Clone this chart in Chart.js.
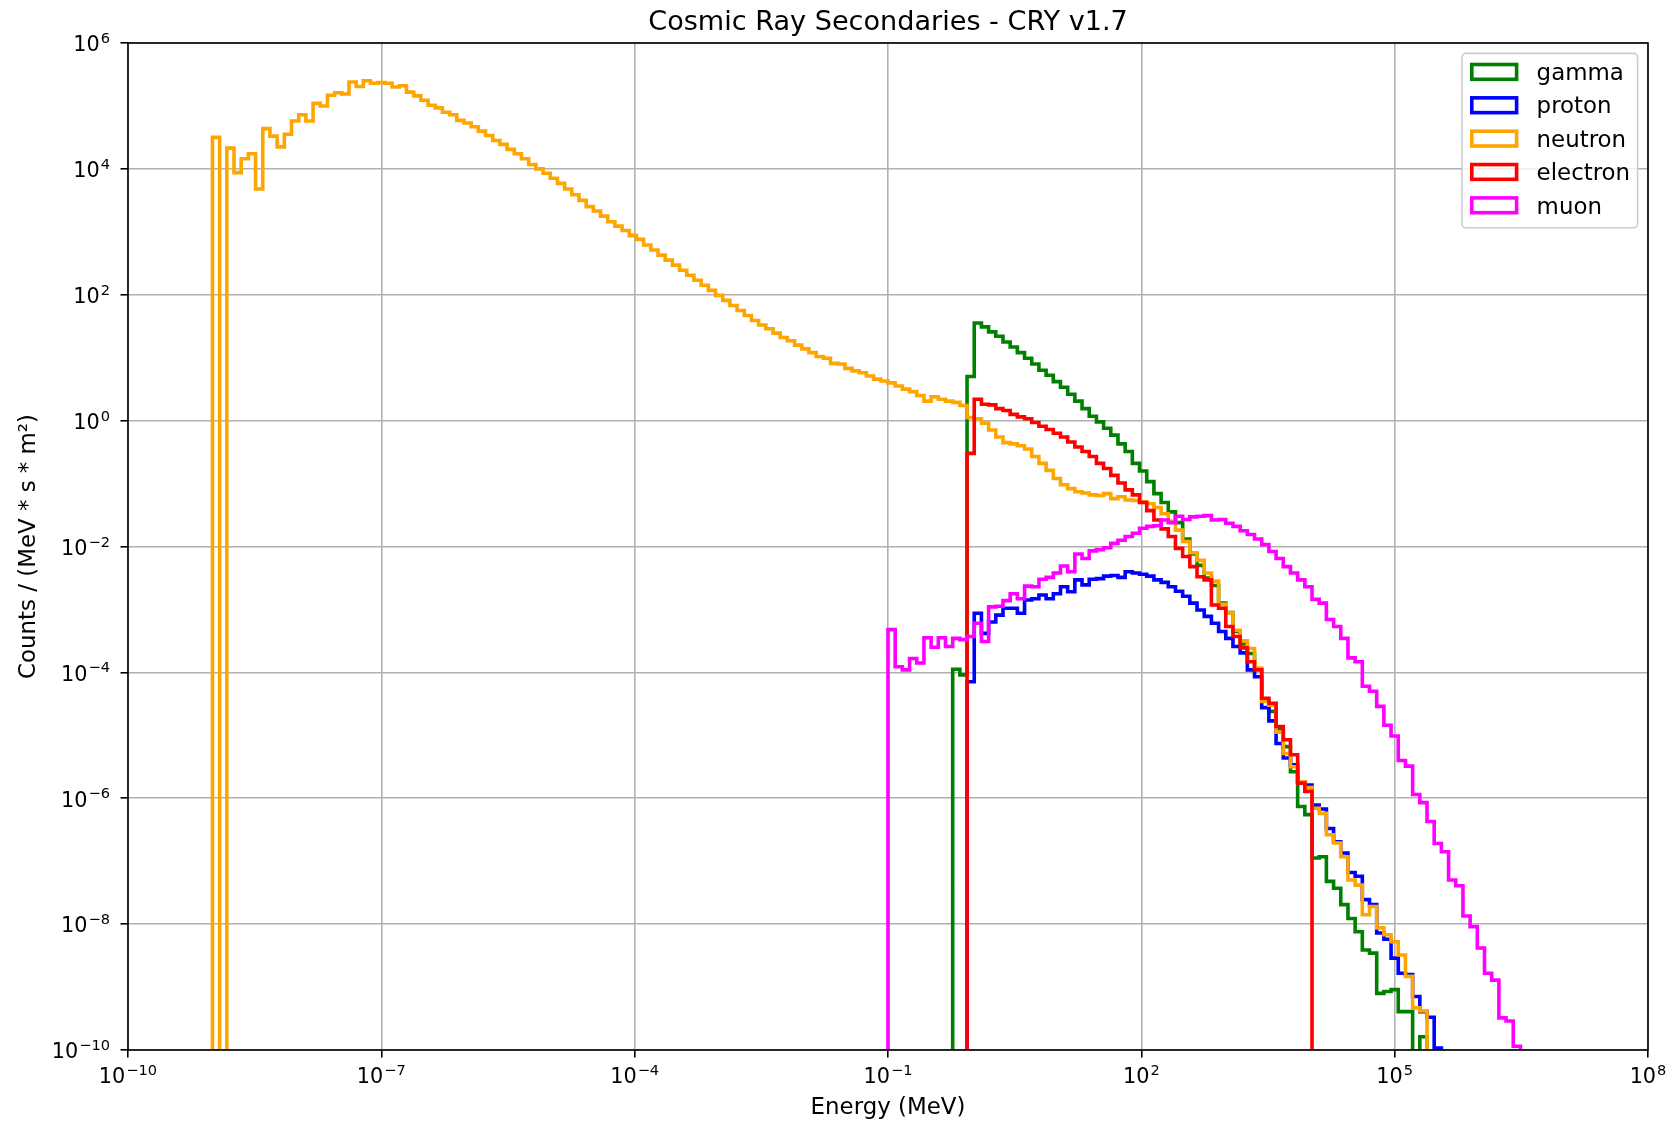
<!DOCTYPE html>
<html lang="en">
<head>
<meta charset="utf-8">
<title>Cosmic Ray Secondaries - CRY v1.7</title>
<script src="https://cdn.jsdelivr.net/npm/chart.js@4.4.1/dist/chart.umd.min.js"></script>
<style>
  body { margin: 0; background: #fff; }
  canvas { display: block; }
</style>
</head>
<body>
<canvas id="myChart" width="1675" height="1123"></canvas>
<script>
// 188 log-spaced energy bins from 1e-9 to 1e7 MeV
const binLogMin = -9;
const binLogMax = 7;
const binCount = 188;

const seriesNames = ["gamma", "proton", "neutron", "electron", "muon"];
const seriesColors = ["green", "blue", "orange", "red", "magenta"];

// log10 of counts / (MeV * s * m2) per bin (null = empty bin)
const gammaStart = 103;
const gammaLog = [
  -3.95, -4.04, 0.70, 1.55, 1.49, 1.41, 1.34, 1.25, 1.17, 1.08,
  0.99, 0.90, 0.80, 0.72, 0.62, 0.53, 0.42, 0.31, 0.19, 0.07,
  -0.02, -0.12, -0.23, -0.37, -0.49, -0.68, -0.80, -0.97, -1.16, -1.30,
  -1.45, -1.62, -1.88, -2.12, -2.30, -2.50, -2.62, -2.90, -3.05, -3.35,
  -3.55, -3.70, -3.95, -4.45, -4.62, -4.90, -5.18, -5.58, -6.13, -6.26,
  -6.95, -6.93, -7.32, -7.43, -7.69, -7.91, -8.12, -8.41, -8.46, -9.10,
  -9.07, -9.04, -9.39, -9.39, null, -9.79
];

const protonStart = 105;
const protonLog = [
  -4.15, -3.06, -3.38, -3.20, -3.09, -2.98, -2.98, -3.06, -2.85, -2.83,
  -2.77, -2.83, -2.75, -2.64, -2.72, -2.53, -2.61, -2.52, -2.51, -2.47,
  -2.46, -2.49, -2.40, -2.42, -2.44, -2.47, -2.53, -2.57, -2.64, -2.71,
  -2.79, -2.90, -3.01, -3.11, -3.22, -3.35, -3.46, -3.59, -3.69, -3.96,
  -4.07, -4.56, -4.77, -5.13, -5.36, -5.47, -5.74, -5.79, -6.11, -6.17,
  -6.48, -6.69, -6.87, -7.18, -7.24, -7.61, -7.69, -8.14, -8.24, -8.54,
  -8.78, -8.80, -9.15, -9.39, -9.48, -9.97
];

const neutronStart = 0;
const neutronLog = [
  4.50, null, 4.33, 3.94, 4.16, 4.24, 3.68, 4.64, 4.52, 4.35,
  4.55, 4.76, 4.86, 4.76, 5.04, 5.00, 5.17, 5.21, 5.19, 5.38,
  5.31, 5.40, 5.36, 5.37, 5.36, 5.30, 5.32, 5.22, 5.16, 5.09,
  5.01, 4.97, 4.90, 4.86, 4.77, 4.73, 4.67, 4.60, 4.53, 4.45,
  4.39, 4.31, 4.24, 4.16, 4.07, 4.00, 3.93, 3.85, 3.77, 3.68,
  3.59, 3.50, 3.40, 3.33, 3.25, 3.16, 3.09, 3.02, 2.94, 2.88,
  2.79, 2.71, 2.63, 2.55, 2.47, 2.39, 2.31, 2.23, 2.15, 2.07,
  1.99, 1.91, 1.83, 1.75, 1.67, 1.59, 1.52, 1.46, 1.39, 1.32,
  1.27, 1.20, 1.14, 1.08, 1.02, 0.99, 0.91, 0.90, 0.83, 0.79,
  0.76, 0.71, 0.66, 0.63, 0.60, 0.55, 0.50, 0.46, 0.40, 0.31,
  0.38, 0.34, 0.31, 0.29, 0.24, 0.05, 0.03, -0.04, -0.15, -0.26,
  -0.35, -0.37, -0.40, -0.45, -0.57, -0.68, -0.79, -0.92, -1.02, -1.08,
  -1.13, -1.15, -1.18, -1.19, -1.16, -1.24, -1.21, -1.26, -1.27, -1.29,
  -1.32, -1.38, -1.48, -1.60, -1.74, -1.92, -2.10, -2.22, -2.42, -2.55,
  -2.92, -3.05, -3.33, -3.50, -3.62, -3.93, -4.46, -4.52, -4.95, -5.29,
  -5.50, -5.74, -5.83, -6.16, -6.24, -6.58, -6.71, -6.93, -7.30, -7.38,
  -7.85, -7.72, -8.06, -8.17, -8.28, -8.49, -8.83, -9.33, -9.38
];

const electronStart = 105;
const electronLog = [
  -0.52, 0.34, 0.26, 0.25, 0.19, 0.16, 0.10, 0.06, 0.03, -0.03,
  -0.09, -0.14, -0.20, -0.26, -0.34, -0.42, -0.49, -0.57, -0.68, -0.76,
  -0.87, -0.99, -1.10, -1.18, -1.30, -1.43, -1.58, -1.72, -1.84, -2.03,
  -2.16, -2.32, -2.48, -2.53, -2.93, -2.98, -3.27, -3.43, -3.61, -3.83,
  -3.96, -4.41, -4.49, -4.86, -5.07, -5.31, -5.76, -5.89
];

const muonStart = 94;
const muonLog = [
  -3.32, -3.91, -3.96, -3.78, -3.85, -3.45, -3.60, -3.45, -3.59, -3.46,
  -3.48, -3.43, -3.22, -3.51, -2.96, -2.95, -2.86, -2.75, -2.83, -2.63,
  -2.64, -2.52, -2.49, -2.42, -2.31, -2.40, -2.12, -2.19, -2.07, -2.05,
  -2.02, -1.95, -1.90, -1.84, -1.79, -1.71, -1.68, -1.67, -1.58, -1.62,
  -1.52, -1.57, -1.53, -1.52, -1.51, -1.58, -1.57, -1.63, -1.68, -1.75,
  -1.81, -1.88, -1.97, -2.08, -2.19, -2.32, -2.42, -2.53, -2.64, -2.84,
  -2.90, -3.16, -3.27, -3.46, -3.77, -3.83, -4.22, -4.30, -4.54, -4.84,
  -5.01, -5.40, -5.49, -5.94, -6.07, -6.37, -6.72, -6.85, -7.30, -7.39,
  -7.87, -8.04, -8.38, -8.78, -8.89, -9.49, -9.54, -9.94
];

// axis ticks (powers of ten) and the exponent text shown on each
const xTickPowers = [-10, -7, -4, -1, 2, 5, 8];
const xTickLabels = ["\u221210", "\u22127", "\u22124", "\u22121", "2", "5", "8"];
const yTickPowers = [-10, -8, -6, -4, -2, 0, 2, 4, 6];
const yTickLabels = ["\u221210", "\u22128", "\u22126", "\u22124", "\u22122", "0", "2", "4", "6"];

const chartTitle = "Cosmic Ray Secondaries - CRY v1.7";
const xAxisTitle = "Energy (MeV)";
const yAxisTitle = "Counts / (MeV * s * m\u00b2)";

const seriesStarts = [gammaStart, protonStart, neutronStart, electronStart, muonStart];
const seriesLogs = [gammaLog, protonLog, neutronLog, electronLog, muonLog];

const FONT = "'DejaVu Sans', sans-serif";
const EMPTY = 1e-14; // below the axis, so empty bins drop to the bottom

const binEdge = (i) => Math.pow(10, binLogMin + (i * (binLogMax - binLogMin)) / binCount);

// step outline like matplotlib's histtype="step"
const toStepPoints = (start, logs) => {
  const pts = [{ x: binEdge(start), y: EMPTY }];
  logs.forEach((v, k) => {
    pts.push({ x: binEdge(start + k), y: v === null ? EMPTY : Math.pow(10, v) });
  });
  pts.push({ x: binEdge(start + logs.length), y: EMPTY });
  return pts;
};

const datasets = seriesNames.map((name, k) => ({
  label: name,
  data: toStepPoints(seriesStarts[k], seriesLogs[k]),
  borderColor: seriesColors[k],
  backgroundColor: seriesColors[k],
  borderWidth: 3.6,
  stepped: true,
  fill: false,
  pointRadius: 0,
  clip: 0,
  order: seriesNames.length - k // later series drawn on top
}));

const drawPower = (ctx, exp, x, y, align) => {
  ctx.font = "20.8px " + FONT;
  const baseW = ctx.measureText("10").width;
  ctx.font = "14.6px " + FONT;
  const expW = ctx.measureText(exp).width;
  const total = baseW + 1 + expW;
  const left = align === "right" ? x - total : x - total / 2;
  ctx.textAlign = "left";
  ctx.textBaseline = "alphabetic";
  ctx.font = "20.8px " + FONT;
  ctx.fillText("10", left, y);
  ctx.font = "14.6px " + FONT;
  ctx.fillText(exp, left + baseW + 1, y - 8.3);
};

const mplLook = {
  id: "mplLook",
  afterDatasetsDraw(chart) {
    const { ctx, chartArea: a } = chart;
    ctx.save();
    ctx.strokeStyle = "#000";
    ctx.lineWidth = 1.6;
    ctx.strokeRect(a.left, a.top, a.right - a.left, a.bottom - a.top);
    ctx.restore();
  },
  afterDraw(chart) {
    const { ctx, chartArea: a, scales } = chart;
    ctx.save();
    ctx.fillStyle = "#000";

    xTickPowers.forEach((p, i) => {
      drawPower(ctx, xTickLabels[i], scales.x.getPixelForValue(Math.pow(10, p)), a.bottom + 33.3, "center");
    });
    yTickPowers.forEach((p, i) => {
      drawPower(ctx, yTickLabels[i], a.left - 18, scales.y.getPixelForValue(Math.pow(10, p)) + 8.3, "right");
    });

    const midX = (a.left + a.right) / 2;
    ctx.textAlign = "center";
    ctx.textBaseline = "alphabetic";
    ctx.font = "27.1px " + FONT;
    ctx.fillText(chartTitle, midX, a.top - 12.7);

    ctx.font = "22.9px " + FONT;
    ctx.fillText(xAxisTitle, midX, 1113.5);

    ctx.save();
    ctx.translate(35, (a.top + a.bottom) / 2);
    ctx.rotate(-Math.PI / 2);
    ctx.fillText(yAxisTitle, 0, 0);
    ctx.restore();

    // legend box in the upper right corner
    const bx = a.right - 10.4, by = a.top + 10.4;
    const bw = 175.6, bh = 174.4;
    ctx.beginPath();
    ctx.roundRect(bx - bw, by, bw, bh, 4);
    ctx.fillStyle = "rgba(255,255,255,0.8)";
    ctx.fill();
    ctx.strokeStyle = "#cccccc";
    ctx.lineWidth = 1.6;
    ctx.stroke();

    seriesNames.forEach((name, i) => {
      const cy = by + 18.5 + i * 33.35;
      ctx.strokeStyle = seriesColors[i];
      ctx.lineWidth = 3.6;
      ctx.strokeRect(bx - bw + 9.8, cy - 7.4, 44.8, 14.8);
      ctx.fillStyle = "#000";
      ctx.textAlign = "left";
      ctx.font = "22.9px " + FONT;
      ctx.fillText(name, bx - bw + 74.6, cy + 8.2);
    });
    ctx.restore();
  }
};

const ctx = document.getElementById("myChart").getContext("2d");
const myChart = new Chart(ctx, {
  type: "line",
  data: { datasets: datasets },
  options: {
    responsive: false,
    animation: false,
    devicePixelRatio: 1,
    layout: { padding: { left: 0, top: 43, right: 27, bottom: 0 } },
    plugins: {
      legend: { display: false },
      title: { display: false },
      tooltip: { enabled: false }
    },
    scales: {
      x: {
        type: "logarithmic",
        position: "bottom",
        min: 1e-10,
        max: 1e8,
        afterBuildTicks: (axis) => {
          axis.ticks = xTickPowers.map((p) => ({ value: Math.pow(10, p) }));
        },
        afterFit: (axis) => { axis.height = 73; },
        ticks: { display: false },
        grid: { color: "#b0b0b0", lineWidth: 1.6, tickColor: "#000", tickLength: 7.5, tickWidth: 1.6 },
        border: { display: false }
      },
      y: {
        type: "logarithmic",
        position: "left",
        min: 1e-10,
        max: 1e6,
        afterBuildTicks: (axis) => {
          axis.ticks = yTickPowers.map((p) => ({ value: Math.pow(10, p) }));
        },
        afterFit: (axis) => { axis.width = 128; },
        ticks: { display: false },
        grid: { color: "#b0b0b0", lineWidth: 1.6, tickColor: "#000", tickLength: 7.5, tickWidth: 1.6 },
        border: { display: false }
      }
    }
  },
  plugins: [mplLook]
});
</script>
</body>
</html>
